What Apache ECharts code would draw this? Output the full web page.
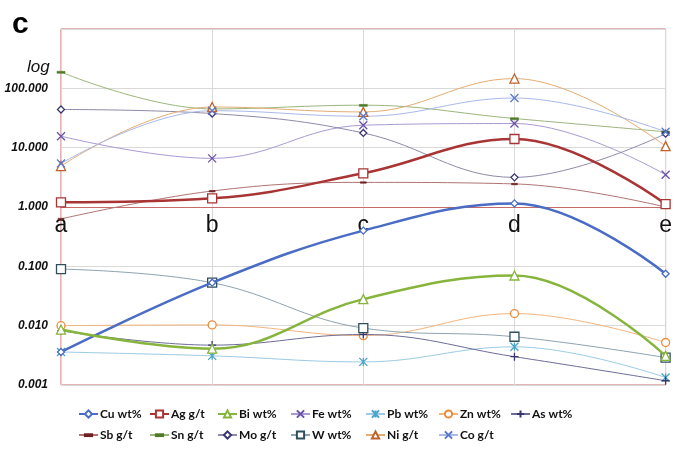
<!DOCTYPE html>
<html>
<head>
<meta charset="utf-8">
<script src="https://cdn.jsdelivr.net/npm/echarts@6/dist/echarts.min.js"></script>
<style>
html,body{margin:0;padding:0;background:#fff;}
#chart{width:675px;height:456px;}
</style>
</head>
<body>
<div id="chart"></div>
<script>
// ---- data ----
const categories = ['a', 'b', 'c', 'd', 'e'];
const yTickLabels = ['0.001', '0.010', '0.100', '1.000', '10.000', '100.000'];
const cuWt = [0.0036, 0.053, 0.40, 1.15, 0.075];
const agGt = [1.2, 1.4, 3.7, 14, 1.12];
const biWt = [0.0086, 0.0041, 0.028, 0.070, 0.0031];
const feWt = [15.6, 6.6, 23.9, 25.5, 3.5];
const pbWt = [0.0036, 0.0031, 0.00245, 0.0044, 0.00134];
const znWt = [0.010, 0.0103, 0.0068, 0.016, 0.0052];
const asWt = [0.0082, 0.0047, 0.0071, 0.0030, 0.00118];
const sbGt = [0.63, 1.86, 2.6, 2.45, 1.0];
const snGt = [188, 45, 52, 31, 18.5];
const moGt = [44, 37.6, 17.7, 3.16, 17.2];
const wWt = [0.090, 0.053, 0.0091, 0.0065, 0.0029];
const niGt = [4.9, 48.5, 40, 146, 10.6];
const coGt = [5.4, 42, 33.8, 68.7, 18.5];

const X_PATH = 'path://M0,0L10,10M10,0L0,10';
const PLUS_PATH = 'path://M5,0L5,10M0,5L10,5';
const STAR_PATH = 'path://M0,0L10,10M10,0L0,10M5,0L5,10';
const DASH_PATH = 'path://M0,0M0,4L10,4L10,6.5L0,6.5ZM10,10';

const seriesDefs = [
  {name:'Cu wt%', data:cuWt, line:'#4a6cc4', mark:'#4a6cc4', sym:'diamond', size:7, w:2.5, fill:'#fff'},
  {name:'Ag g/t', data:agGt, line:'#a83434', mark:'#a83434', sym:'rect', size:9, w:2.5, fill:'#fff'},
  {name:'Bi wt%', data:biWt, line:'#86b43c', mark:'#86b43c', sym:'triangle', size:9, w:2.5, fill:'#fff'},
  {name:'Fe wt%', data:feWt, line:'#a99ad4', mark:'#6a52a8', sym:X_PATH, size:8, w:1, fill:'#6a52a8'},
  {name:'Pb wt%', data:pbWt, line:'#9ccbe2', mark:'#4aa3c8', sym:STAR_PATH, size:8, w:1, fill:'#4aa3c8'},
  {name:'Zn wt%', data:znWt, line:'#f3b57e', mark:'#ee8a3a', sym:'circle', size:8, w:1, fill:'#fff'},
  {name:'As wt%', data:asWt, line:'#6c6c98', mark:'#353570', sym:PLUS_PATH, size:8, w:1, fill:'#353570'},
  {name:'Sb g/t', data:sbGt, line:'#b07474', mark:'#6e2020', sym:DASH_PATH, size:6, w:1, fill:'#6e2020'},
  {name:'Sn g/t', data:snGt, line:'#9db57e', mark:'#4f7a26', sym:DASH_PATH, size:8, w:1, fill:'#4f7a26'},
  {name:'Mo g/t', data:moGt, line:'#8f8aa8', mark:'#3a3470', sym:'diamond', size:7, w:1, fill:'#fff'},
  {name:'W wt%', data:wWt, line:'#8ea3b0', mark:'#2f4f5f', sym:'rect', size:9, w:1, fill:'#fff'},
  {name:'Ni g/t', data:niGt, line:'#e2ad72', mark:'#c0602a', sym:'triangle', size:9, w:1, fill:'#fff'},
  {name:'Co g/t', data:coGt, line:'#a9b9ea', mark:'#5a78cc', sym:X_PATH, size:8, w:1, fill:'#5a78cc'}
];

const RED = '#c76a6a';

const series = seriesDefs.map(d => ({
  name: d.name,
  type: 'line',
  data: d.data,
  smooth: 0.4,
  symbol: d.sym,
  symbolSize: d.size,
  showSymbol: true,
  lineStyle: {color: d.line, width: d.w},
  itemStyle: {color: d.fill, borderColor: d.mark, borderWidth: d.sym === DASH_PATH ? 0.5 : 1.3},
  emphasis: {disabled: true},
  z: d.w > 2 ? 3 : 2
}));

const legendCols = [78, 149, 217, 290, 365, 438, 510];
const legends = [];
for (let c = 0; c < 7; c++) {
  const names = [seriesDefs[c].name];
  if (seriesDefs[c + 7]) names.push(seriesDefs[c + 7].name);
  legends.push({
    data: names,
    orient: 'vertical',
    left: legendCols[c],
    top: 408,
    itemWidth: 19,
    itemHeight: 9,
    itemGap: 9,
    padding: 0,
    textStyle: {fontFamily: 'Lato', fontWeight: 'bold', fontSize: 12, color: '#111', padding: [0,0,0,-3]},
    selectedMode: false
  });
}

const chart = echarts.init(document.getElementById('chart'), null, {renderer: 'canvas'});
chart.setOption({
  animation: false,
  backgroundColor: '#fff',
  grid: {left: 61, right: 3, top: 29, bottom: 71, show: true, borderColor: RED, borderWidth: 1, backgroundColor: 'transparent'},
  legend: legends,
  xAxis: {
    type: 'category',
    data: categories,
    boundaryGap: false,
    offset: -178,
    axisLine: {show: true, lineStyle: {color: RED, width: 1}},
    axisTick: {show: false},
    axisLabel: {fontFamily: 'Liberation Sans', fontSize: 23, color: '#111', margin: 7},
    splitLine: {show: true, lineStyle: {color: '#d9d9d9', width: 1}}
  },
  yAxis: {
    type: 'log',
    logBase: 10,
    min: 0.001,
    max: 1000,
    axisLine: {show: false},
    axisTick: {show: false},
    axisLabel: {
      fontFamily: 'Liberation Sans', fontStyle: 'italic', fontWeight: 'bold', fontSize: 12, color: '#111', margin: 13,
      formatter: function (v) {
        const e = Math.round(Math.log10(v));
        if (e >= 3) return '';
        return yTickLabels[e + 3];
      }
    },
    splitLine: {show: true, lineStyle: {color: '#d9d9d9', width: 1}}
  },
  graphic: [
    {type: 'text', left: 12, top: 10, style: {text: 'c', font: 'bold 30px "Liberation Sans"', fill: '#000'}},
    {type: 'text', left: 27, top: 59, style: {text: 'log', font: 'italic 17px "Liberation Sans"', fill: '#111'}}
  ],
  series: series
});
</script>
</body>
</html>
